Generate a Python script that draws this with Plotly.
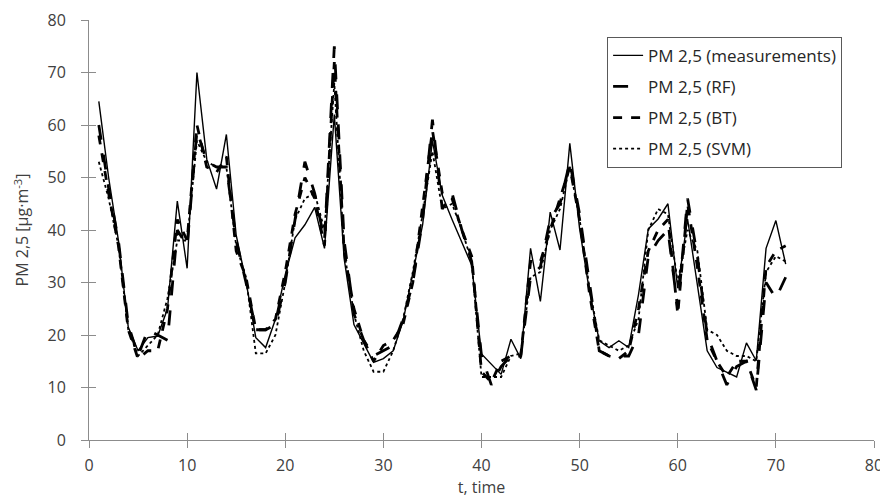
import plotly.graph_objects as go

t = list(range(1, 72))

measured = [64.5, 50, 38, 21.5, 17, 19.5, 19.8, 25, 45.5, 32.7,
            70, 53.5, 47.8, 58.2, 39, 30.2, 19.5, 17.6, 23, 31.5,
            38.5, 41, 44.3, 36.5, 62, 34.6, 22, 18.3, 14.8, 15.5,
            17, 22.6, 31.5, 41, 57, 46.6, 42, 37.7, 33.3, 16.4,
            14.5, 12.5, 19.2, 15.5, 36.5, 26.4, 43.4, 36.2, 56.5, 40.2,
            28.3, 18.9, 17.6, 18.9, 17.6, 27.7, 40.2, 42.1, 45, 28.9,
            42.1, 29.6, 17, 13.8, 12.9, 12, 18.5, 15.1, 36.5, 41.8,
            33.5]

rf = [60, 48, 38, 22, 16, 21, 20, 19, 40, 37,
      59, 53, 52, 52, 38, 30, 21, 21, 22, 30,
      42, 53, 47, 38, 75, 38, 24, 19, 16, 17,
      18, 23, 30, 42, 61, 44, 47, 40, 34, 16,
      10.5, 14, 16, 16, 31, 33, 42, 45, 53, 43,
      30, 17, 16, 16, 16, 20, 35, 38, 40, 25,
      46, 35, 20, 15, 10.5, 14, 15, 9.5, 30, 27,
      31]

bt = [58, 47, 37, 21, 15.5, 17, 17, 25, 42, 38,
      60, 52, 51, 54, 36, 31, 21, 21, 23, 32,
      43, 50, 46, 37, 72, 36, 25, 19, 15, 18,
      19, 22, 30, 44, 59, 47, 46, 40, 35, 13,
      11, 15, 16, 16, 34, 34, 40, 46, 52, 42,
      28, 17, 16, 15.5, 17, 25, 36, 40, 42, 24,
      45, 33, 19, 15, 12, 15, 15, 10, 33, 36,
      37]

svm = [53, 46, 37, 21, 16, 18, 20, 27, 38, 38,
       57, 53, 52, 52, 37, 31, 16.5, 16.5, 20, 30,
       42, 46, 47, 40, 68, 36, 24, 17, 13, 13,
       17, 23, 32, 43, 55, 44, 45, 40, 34, 12,
       12, 12, 16, 16.5, 31, 32, 40, 44, 52, 42,
       29, 19, 18, 17, 18, 23, 40, 44, 43, 30,
       40, 36, 21, 20, 17, 16, 16, 15, 32, 35,
       34]

series = [
    ("PM 2,5 (measurements)", measured, "solid", 1.4),
    ("PM 2,5 (RF)", rf, "longdash", 2.8),
    ("PM 2,5 (BT)", bt, "dash", 2.8),
    ("PM 2,5 (SVM)", svm, "dot", 1.8),
]

fig = go.Figure()
for name, vals, dash, w in series:
    fig.add_trace(go.Scatter(x=t, y=vals, mode="lines", name=name, legendgroup=name,
                             line=dict(color="black", dash=dash, width=w)))

# empty trace so the overlay axes (inner half of the cross ticks) get drawn
fig.add_trace(go.Scatter(x=[None], y=[None], xaxis="x2", yaxis="y2",
                         showlegend=False, hoverinfo="skip"))

gray = "#8c8c8c"
txt = "#404040"
axis_style = dict(range=[0, 80], dtick=10, showgrid=False, zeroline=False,
                  showline=True, linecolor=gray, linewidth=1, automargin=False,
                  ticks="outside", ticklen=7, tickcolor=gray, ticklabeloverflow="allow",
                  tickfont=dict(size=16, color=txt))

fig.update_xaxes(**axis_style, ticklabelstandoff=4,
                 title=dict(text="t, time", font=dict(size=16, color=txt), standoff=2))
fig.update_yaxes(**axis_style, ticklabelstandoff=12,
                 title=dict(text="PM 2,5 [μg·m<sup>-3</sup>]", font=dict(size=16, color=txt), standoff=14))

inner = dict(range=[0, 80], dtick=10, showgrid=False, zeroline=False,
             showline=False, showticklabels=False, ticks="inside", ticklen=7,
             tickcolor=gray, automargin=False)
fig.update_layout(xaxis2=dict(overlaying="x", **inner),
                  yaxis2=dict(overlaying="y", side="left", **inner))

fig.update_layout(
    width=880, height=493,
    margin=dict(l=81, r=14, t=12, b=61),
    plot_bgcolor="white", paper_bgcolor="white",
    font=dict(family="Open Sans", color=txt),
    legend=dict(x=0.66, y=0.96, xanchor="left", yanchor="top",
                bordercolor="#595959", borderwidth=1, bgcolor="white",
                font=dict(size=17, color="#262626"), tracegroupgap=6),
)

fig.write_html("out.html")
